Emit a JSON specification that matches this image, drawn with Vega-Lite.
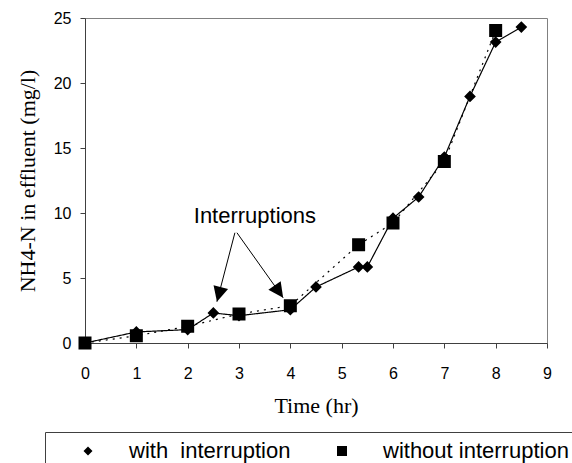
{
  "$schema": "https://vega.github.io/schema/vega-lite/v6.json",
  "width": 462,
  "height": 325,
  "autosize": {"type": "none"},
  "padding": {"left": 85, "top": 18, "right": 25, "bottom": 120},
  "background": "white",
  "config": {
    "view": {"stroke": "#808080", "strokeWidth": 1},
    "axis": {
      "grid": false,
      "labelFont": "Liberation Sans",
      "labelFontSize": 16,
      "labelColor": "black",
      "labelFlush": false,
      "labelOverlap": false,
      "tickColor": "#404040",
      "domainColor": "#404040",
      "tickSize": 5,
      "titleFont": "Liberation Serif",
      "titleFontSize": 22,
      "titleFontWeight": "normal",
      "titleColor": "black"
    },
    "legend": {
      "symbolFillColor": "black",
      "symbolStrokeColor": "black",
      "symbolStrokeWidth": 1.5,
      "symbolOpacity": 1
    }
  },
  "datasets": {
    "series": [
      {"time": 0, "nh4": 0, "series": "with interruption"},
      {"time": 1, "nh4": 0.85, "series": "with interruption"},
      {"time": 2, "nh4": 1.03, "series": "with interruption"},
      {"time": 2.5, "nh4": 2.31, "series": "with interruption"},
      {"time": 3, "nh4": 2.1, "series": "with interruption"},
      {"time": 4, "nh4": 2.56, "series": "with interruption"},
      {"time": 4.5, "nh4": 4.31, "series": "with interruption"},
      {"time": 5.33, "nh4": 5.85, "series": "with interruption"},
      {"time": 5.5, "nh4": 5.85, "series": "with interruption"},
      {"time": 6, "nh4": 9.6, "series": "with interruption"},
      {"time": 6.5, "nh4": 11.23, "series": "with interruption"},
      {"time": 7, "nh4": 14.3, "series": "with interruption"},
      {"time": 7.5, "nh4": 18.97, "series": "with interruption"},
      {"time": 8, "nh4": 23.15, "series": "with interruption"},
      {"time": 8.5, "nh4": 24.3, "series": "with interruption"},
      {"time": 0, "nh4": 0, "series": "without interruption"},
      {"time": 1, "nh4": 0.56, "series": "without interruption"},
      {"time": 2, "nh4": 1.28, "series": "without interruption"},
      {"time": 3, "nh4": 2.23, "series": "without interruption"},
      {"time": 4, "nh4": 2.87, "series": "without interruption"},
      {"time": 5.33, "nh4": 7.56, "series": "without interruption"},
      {"time": 6, "nh4": 9.23, "series": "without interruption"},
      {"time": 7, "nh4": 13.97, "series": "without interruption"},
      {"time": 8, "nh4": 24.03, "series": "without interruption"}
    ],
    "arrows": [
      {"x": 2.92, "y": 8.48, "x2": 2.57, "y2": 3.18},
      {"x": 2.96, "y": 8.48, "x2": 3.86, "y2": 3.48}
    ],
    "note": [{"x": 3.31, "y": 9.25, "label": "Interruptions"}]
  },
  "layer": [
    {
      "data": {"name": "series"},
      "mark": {"type": "line", "interpolate": "linear", "color": "black", "strokeCap": "butt", "strokeWidth": 1.2},
      "encoding": {
        "x": {
          "field": "time", "type": "quantitative",
          "scale": {"domain": [0, 9], "nice": false, "zero": false},
          "axis": {
            "values": [0, 1, 2, 3, 4, 5, 6, 7, 8, 9],
            "title": "Time (hr)",
            "labelPadding": 17,
            "titlePadding": 14,
            "encode": {"ticks": {"y": {"value": -5}, "y2": {"value": 5}}}
          }
        },
        "y": {
          "field": "nh4", "type": "quantitative",
          "scale": {"domain": [0, 25], "nice": false},
          "axis": {
            "values": [0, 5, 10, 15, 20, 25],
            "title": "NH4-N in effluent (mg/l)",
            "labelPadding": 9,
            "titlePadding": 14
          }
        },
        "strokeDash": {
          "field": "series", "type": "nominal",
          "scale": {"domain": ["with interruption", "without interruption"], "range": [[1, 0], [2, 5]]},
          "legend": {
            "title": null,
            "orient": "none",
            "legendX": -40,
            "legendY": 414,
            "direction": "horizontal",
            "strokeColor": "#404040",
            "fillColor": "white",
            "padding": 8,
            "symbolSize": 100,
            "symbolOffset": 24,
            "symbolStrokeColor": "black",
            "symbolStrokeWidth": 1.5,
            "symbolFillColor": "black",
            "labelOffset": 30,
            "columnPadding": 13,
            "labelFont": "Liberation Sans",
            "labelFontSize": 22,
            "labelColor": "black",
            "labelLimit": 0,
            "labelExpr": "datum.value == 'with interruption' ? 'with\u00a0 interruption' : datum.label"
          }
        }
      }
    },
    {
      "data": {"name": "series"},
      "mark": {"type": "point", "filled": true, "color": "black", "size": 169, "opacity": 1},
      "encoding": {
        "x": {"field": "time", "type": "quantitative"},
        "y": {"field": "nh4", "type": "quantitative"},
        "strokeWidth": {"value": 0},
        "shape": {
          "field": "series", "type": "nominal",
          "scale": {"domain": ["with interruption", "without interruption"], "range": ["M-7,0L7,0M0,-0.9L0.9,0L0,0.9L-0.9,0Z", "M-7,0L7,0M-1,-1L1,-1L1,1L-1,1Z"]},
          "legend": {
            "title": null,
            "orient": "none",
            "legendX": -40,
            "legendY": 414,
            "direction": "horizontal",
            "strokeColor": "#404040",
            "fillColor": "white",
            "padding": 8,
            "symbolSize": 100,
            "symbolOffset": 24,
            "symbolStrokeColor": "black",
            "symbolStrokeWidth": 1.5,
            "symbolFillColor": "black",
            "labelOffset": 30,
            "columnPadding": 13,
            "labelFont": "Liberation Sans",
            "labelFontSize": 22,
            "labelColor": "black",
            "labelLimit": 0,
            "labelExpr": "datum.value == 'with interruption' ? 'with\u00a0 interruption' : datum.label"
          }
        }
      }
    },
    {
      "data": {"name": "arrows"},
      "mark": {"type": "rule", "color": "black", "strokeWidth": 1},
      "encoding": {
        "x": {"field": "x", "type": "quantitative"},
        "y": {"field": "y", "type": "quantitative"},
        "x2": {"field": "x2"},
        "y2": {"field": "y2"}
      }
    },
    {
      "data": {"values": [{"x": 2.57, "y": 3.18}]},
      "mark": {"type": "point", "shape": "M0,0L-0.5,1L0.5,1Z", "size": 900, "angle": 195, "filled": true, "color": "black", "opacity": 1},
      "encoding": {
        "x": {"field": "x", "type": "quantitative"},
        "y": {"field": "y", "type": "quantitative"}
      }
    },
    {
      "data": {"values": [{"x": 3.86, "y": 3.48}]},
      "mark": {"type": "point", "shape": "M0,0L-0.5,1L0.5,1Z", "size": 900, "angle": 145, "filled": true, "color": "black", "opacity": 1},
      "encoding": {
        "x": {"field": "x", "type": "quantitative"},
        "y": {"field": "y", "type": "quantitative"}
      }
    },
    {
      "data": {"name": "note"},
      "mark": {"type": "text", "font": "Liberation Sans", "fontSize": 22, "align": "center", "baseline": "alphabetic", "color": "black"},
      "encoding": {
        "x": {"field": "x", "type": "quantitative"},
        "y": {"field": "y", "type": "quantitative"},
        "text": {"field": "label"}
      }
    }
  ]
}
